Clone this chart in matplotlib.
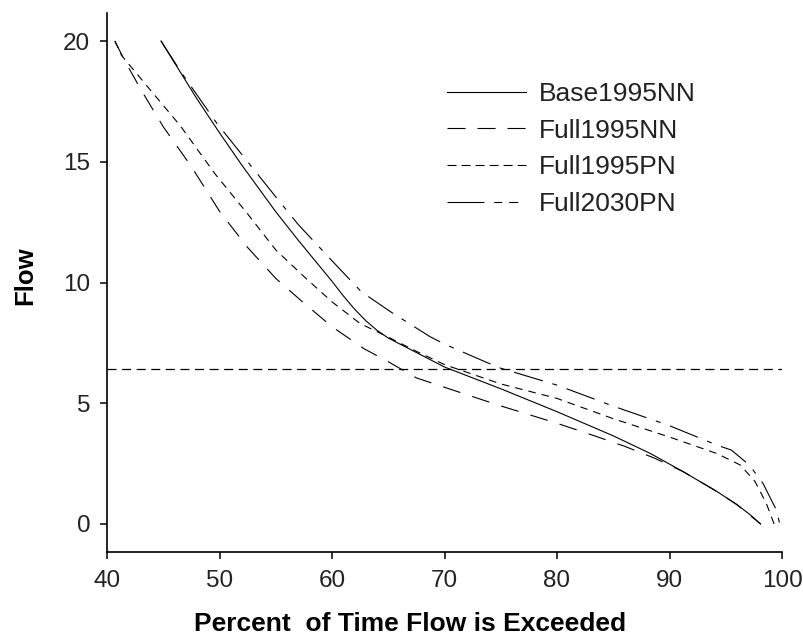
import matplotlib
matplotlib.use("Agg")
import matplotlib.pyplot as plt
from matplotlib.lines import Line2D

plt.rcParams['font.family'] = ['Liberation Sans', 'DejaVu Sans']
plt.rcParams['lines.scale_dashes'] = False

# ==================================================
# Data
# ==================================================
series_names = ['Base1995NN', 'Full1995NN', 'Full1995PN', 'Full2030PN']

base1995nn_x = [44.8, 46, 48, 50, 52, 55, 57, 60, 61, 62, 63, 64, 65, 67.5, 70, 75, 80,
                85, 88.3, 91.2, 94.2, 96, 97.15, 98.1]
base1995nn_y = [20, 19.1, 17.6, 16.2, 14.85, 12.93, 11.75, 10.05, 9.45, 8.9, 8.42, 8.02,
                7.7, 7.1, 6.5, 5.6, 4.65, 3.65, 2.92, 2.17, 1.35, 0.8, 0.39, 0.0]

full1995nn_x = [40.7, 41.5, 43, 45, 47.5, 50, 52.5, 55, 57.5, 60, 62.8, 65, 67.5, 70,
                75, 80, 83.4, 86, 88.7, 91.2, 94.2, 96, 98.1]
full1995nn_y = [20, 19.25, 18.0, 16.45, 14.8, 12.95, 11.45, 10.17, 9.15, 8.17, 7.27,
                6.72, 6.05, 5.66, 4.89, 4.17, 3.64, 3.22, 2.72, 2.17, 1.35, 0.8, 0.0]

full1995pn_x = [40.7, 41.3, 43.8, 46.5, 49.6, 52.4, 55, 57.5, 60, 62.5, 64.6, 67.5, 70,
                75, 80, 85, 90, 94.2, 96.3, 97.6, 98.6, 99.3]
full1995pn_y = [20, 19.4, 18.0, 16.5, 14.5, 12.9, 11.35, 10.25, 9.2, 8.3, 7.83, 7.15,
                6.6, 5.8, 5.2, 4.36, 3.6, 2.92, 2.44, 1.76, 0.86, 0.0]

full2030pn_x = [44.8, 46.6, 49.75, 55.1, 57, 60, 62.6, 65.2, 68.7, 70, 73.75, 75, 78.5,
                80, 85, 90, 94.2, 95.5, 97.1, 98.3, 99.5, 99.8]
full2030pn_y = [20, 18.7, 16.6, 13.49, 12.4, 10.9, 9.62, 8.79, 7.76, 7.45, 6.69, 6.45,
                5.96, 5.75, 4.88, 4.07, 3.27, 3.06, 2.44, 1.69, 0.58, 0.0]

reference_flow = 6.4

x_ticks = [40, 50, 60, 70, 80, 90, 100]
y_ticks = [0, 5, 10, 15, 20]

# ==================================================
# Figure
# ==================================================
fig = plt.figure(figsize=(8.04, 6.38), dpi=100)
ax = fig.add_axes([107 / 804, 1 - 552 / 638, 675 / 804, 539 / 638])

lw = 0.8
ax.plot(base1995nn_x, base1995nn_y, color='black', lw=lw, linestyle='-')
ax.plot(full1995nn_x, full1995nn_y, color='black', lw=lw, linestyle=(0, (13, 9)))
ax.plot(full1995pn_x, full1995pn_y, color='black', lw=lw, linestyle=(0, (5.5, 4.3)))
ax.plot(full2030pn_x, full2030pn_y, color='black', lw=lw,
        linestyle=(0, (21.6, 7.2, 3.6, 7.2)))

ax.axhline(reference_flow, color='black', lw=0.9, linestyle=(0, (6.5, 4)))

ax.set_xlim(40, 100)
ax.set_ylim(-1.16, 21.16)
ax.set_xticks(x_ticks)
ax.set_yticks(y_ticks)

for side in ['top', 'right']:
    ax.spines[side].set_visible(False)
for side in ['left', 'bottom']:
    ax.spines[side].set_linewidth(1.2)
ax.tick_params(direction='out', length=5, width=1.1, labelsize=17.5,
               labelcolor='#222222')
ax.tick_params(axis='x', pad=8)
ax.tick_params(axis='y', pad=7)

fig.text(410 / 804, 1 - 631 / 638, 'Percent  of Time Flow is Exceeded',
         ha='center', va='baseline', fontsize=19, fontweight='bold')
fig.text(25 / 804, 1 - 276 / 638, 'Flow', rotation=90,
         ha='center', va='center', fontsize=18.5, fontweight='bold')

# legend (proxy handles, the legend draws its own dash patterns)
handles = [
    Line2D([], [], color='black', lw=lw, linestyle='-'),
    Line2D([], [], color='black', lw=lw, linestyle=(0, (13, 8.6))),
    Line2D([], [], color='black', lw=lw, linestyle=(0, (6.5, 3.6))),
    Line2D([], [], color='black', lw=lw,
           linestyle=(0, (26.6, 7, 5.8, 5, 6.5, 7))),
]
fig.legend(handles, series_names, loc='upper left',
           bbox_to_anchor=(447 / 804, 1 - 82 / 638),
           bbox_transform=fig.transFigure, frameon=False, fontsize=19,
           handlelength=3.0, handletextpad=0.5, labelspacing=0.48,
           borderpad=0, borderaxespad=0, labelcolor='#222222')

plt.savefig('out.png', dpi=100)
